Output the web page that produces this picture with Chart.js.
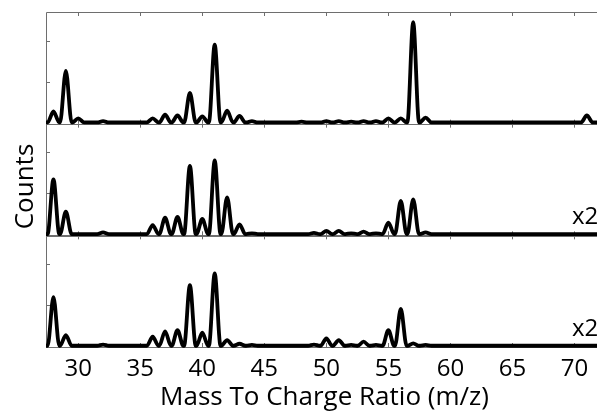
<!DOCTYPE html>
<html>
<head>
<meta charset="utf-8">
<script src="https://cdn.jsdelivr.net/npm/chart.js@4/dist/chart.umd.min.js"></script>
<style>
  html, body { margin: 0; padding: 0; overflow: hidden; background: #fff; }
</style>
</head>
<body>
<canvas id="spectra" width="606" height="413"></canvas>
<script>
// peak positions (m/z) and heights
var mzTop = [28, 29, 30, 32, 36, 37, 38, 39, 40, 41, 42, 43, 44, 48, 50, 51, 52, 53, 54, 55, 56, 57, 58, 71];
var countsTop = [0.27, 1.26, 0.1, 0.03, 0.1, 0.19, 0.17, 0.72, 0.15, 1.9, 0.29, 0.16, 0.03, 0.02, 0.03, 0.03, 0.02, 0.03, 0.03, 0.1, 0.1, 2.45, 0.12, 0.17];

var mzMid = [28, 29, 32, 36, 37, 38, 39, 40, 41, 42, 43, 44, 49, 50, 51, 52, 53, 54, 55, 56, 57, 58];
var countsMid = [1.34, 0.55, 0.04, 0.22, 0.4, 0.42, 1.67, 0.37, 1.8, 0.9, 0.24, 0.02, 0.03, 0.08, 0.08, 0.02, 0.06, 0.02, 0.28, 0.81, 0.85, 0.04];

var mzBot = [28, 29, 32, 36, 37, 38, 39, 40, 41, 42, 43, 44, 49, 50, 51, 52, 53, 54, 55, 56, 57, 58];
var countsBot = [1.19, 0.26, 0.03, 0.22, 0.35, 0.38, 1.48, 0.32, 1.77, 0.14, 0.05, 0.02, 0.03, 0.18, 0.14, 0.02, 0.1, 0.02, 0.38, 0.9, 0.06, 0.02];

var xTicks = [30, 35, 40, 45, 50, 55, 60, 65, 70];
var yTicks = [1, 2];
var panelLabels = ['', 'x2', 'x2'];
var yTitle = 'Counts';

var xMin = 27.4, xMax = 72.3;
var halfWidth = 0.47;

function peakPoints(mz, counts) {
  var pts = [{ x: xMin, y: 0 }];
  for (var i = 0; i < mz.length; i++) {
    pts.push({ x: mz[i] - halfWidth, y: 0 });
    pts.push({ x: mz[i], y: counts[i] });
    pts.push({ x: mz[i] + halfWidth, y: 0 });
  }
  pts.push({ x: xMax, y: 0 });
  return pts;
}

Chart.defaults.font.family = "'Open Sans', sans-serif";
Chart.defaults.color = '#000';

function panelAxis() {
  return {
    type: 'linear',
    position: 'left',
    stack: 'panels',
    stackWeight: 1,
    min: -0.03,
    max: 2.7,
    ticks: { display: false },
    grid: { display: false, drawTicks: false },
    border: { display: false },
    afterFit: function (s) { s.width = 46; }
  };
}

var frames = {
  id: 'frames',
  beforeDatasetsDraw: function (chart) {
    var ctx = chart.ctx, a = chart.chartArea, x = chart.scales.x;
    ctx.save();
    ctx.strokeStyle = '#6e6e6e';
    ctx.lineWidth = 1;
    ctx.beginPath();
    ['y1', 'y2', 'y3'].forEach(function (id) {
      var s = chart.scales[id];
      ctx.rect(a.left + 0.5, Math.round(s.top) + 0.5, a.right - a.left, Math.round(s.bottom - s.top));
      xTicks.forEach(function (v) {
        var px = Math.round(x.getPixelForValue(v)) + 0.5;
        ctx.moveTo(px, s.top);
        ctx.lineTo(px, s.top + 4);
        ctx.moveTo(px, s.bottom);
        ctx.lineTo(px, s.bottom - 4);
      });
      yTicks.forEach(function (v) {
        var py = Math.round(s.getPixelForValue(v)) + 0.5;
        ctx.moveTo(a.left, py);
        ctx.lineTo(a.left + 4, py);
      });
    });
    ctx.stroke();
    ctx.restore();
  },
  afterDatasetsDraw: function (chart) {
    var ctx = chart.ctx, mid = chart.scales.y2;
    ctx.save();
    ctx.fillStyle = '#000';
    ctx.font = "24px 'Open Sans', sans-serif";
    ctx.textBaseline = 'alphabetic';
    ['y1', 'y2', 'y3'].forEach(function (id, i) {
      if (!panelLabels[i]) return;
      var s = chart.scales[id];
      ctx.fillText(panelLabels[i], 572, s.bottom - 11);
    });
    // y-axis title, rotated
    ctx.font = "26px 'Open Sans', sans-serif";
    ctx.translate(33, (mid.top + mid.bottom) / 2 + 7);
    ctx.rotate(-Math.PI / 2);
    ctx.textAlign = 'center';
    ctx.fillText(yTitle, 0, 0);
    ctx.restore();
  }
};

function series(data, axis) {
  return {
    data: data,
    yAxisID: axis,
    borderColor: '#000',
    borderWidth: 3.8,
    pointRadius: 0,
    fill: false,
    clip: false,
    cubicInterpolationMode: 'monotone'
  };
}

new Chart(document.getElementById('spectra'), {
  type: 'line',
  data: {
    datasets: [
      series(peakPoints(mzTop, countsTop), 'y1'),
      series(peakPoints(mzMid, countsMid), 'y2'),
      series(peakPoints(mzBot, countsBot), 'y3')
    ]
  },
  options: {
    responsive: false,
    animation: false,
    devicePixelRatio: 1,
    layout: { padding: { top: 12, right: 3, left: 0, bottom: 0 } },
    plugins: { legend: { display: false }, tooltip: { enabled: false } },
    scales: {
      x: {
        type: 'linear',
        min: xMin,
        max: xMax,
        afterBuildTicks: function (s) { s.ticks = xTicks.map(function (v) { return { value: v }; }); },
        ticks: { font: { size: 24 }, color: '#000', padding: 8, maxRotation: 0, autoSkip: false },
        grid: { display: false, drawTicks: false },
        border: { display: false },
        title: { display: true, text: 'Mass To Charge Ratio (m/z)', font: { size: 26 }, color: '#000', padding: { top: 0, bottom: 0 } },
        afterFit: function (s) { s.height = 66; }
      },
      y3: panelAxis(),
      y2: panelAxis(),
      y1: panelAxis()
    }
  },
  plugins: [frames]
});
</script>
</body>
</html>
